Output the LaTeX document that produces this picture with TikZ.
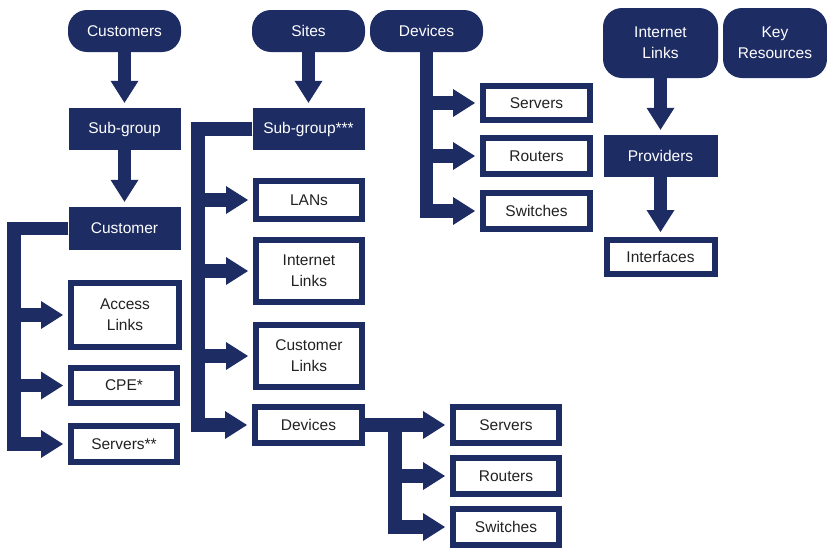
\documentclass[tikz,border=0pt]{standalone}
\usepackage{fontspec}
\setmainfont{Liberation Sans}
\usetikzlibrary{arrows.meta}
\definecolor{navy}{HTML}{1E2C64}
\definecolor{ink}{HTML}{222222}
\begin{document}
\begin{tikzpicture}[x=1pt,y=1pt,
  base/.style={inner sep=0pt, align=center, font=\fontsize{15.5}{21}\selectfont},
  pill/.style={base, fill=navy, text=white, rounded corners=19pt},
  solidbox/.style={base, fill=navy, text=white},
  frame/.style={base, draw=navy, line width=6pt, text=ink, fill=white},
  sz/.style 2 args={minimum width=#1pt, minimum height=#2pt},
  conn/.style={draw=navy, line width=13.5pt, line join=miter, shorten >=5pt,
    -{Triangle[width=28pt,length=22pt,line width=0pt]}},
]
\useasboundingbox (0,0) rectangle (827,-549);

% Customers column
\node[pill, sz={113}{42}] (customers) at (124.5,-31) {Customers};
\node[solidbox, sz={112}{42}] (sg1) at (124.5,-129) {Sub-group};
\node[solidbox, sz={112}{43}] (cust) at (124.5,-228.5) {Customer};
\node[frame, sz={108}{64}] (access) at (125,-315) {Access\\Links};
\node[frame, sz={106}{35}] (cpe) at (124,-385.5) {CPE*};
\node[frame, sz={106}{36}] (srv2) at (124,-444) {Servers**};

% Sites column
\node[pill, sz={113}{42}] (sites) at (308.5,-31) {Sites};
\node[solidbox, sz={112}{42}] (sg3) at (308.5,-129) {Sub-group***};
\node[frame, sz={106}{38}] (lans) at (309,-200) {LANs};
\node[frame, sz={106}{62}] (inet) at (309,-271) {Internet\\Links};
\node[frame, sz={106}{62}] (clinks) at (309,-356) {Customer\\Links};
\node[frame, sz={107}{36}] (devs) at (308.5,-425) {Devices};
\node[frame, sz={106}{36}] (srv3) at (506,-425) {Servers};
\node[frame, sz={106}{36}] (rtr3) at (506,-476) {Routers};
\node[frame, sz={106}{36}] (sw3) at (506,-527) {Switches};

% Devices column
\node[pill, sz={113}{42}] (devp) at (426.5,-31) {Devices};
\node[frame, sz={107}{34}] (srv1) at (536.5,-103) {Servers};
\node[frame, sz={107}{36}] (rtr1) at (536.5,-156) {Routers};
\node[frame, sz={107}{36}] (sw1) at (536.5,-211) {Switches};

% Internet links column
\node[pill, sz={115}{70}] (il) at (660.5,-43) {Internet\\Links};
\node[pill, sz={104}{70}] (kr) at (775,-43) {Key\\Resources};
\node[solidbox, sz={114}{42}] (prov) at (660.5,-156) {Providers};
\node[frame, sz={108}{34}] (intf) at (660.5,-257) {Interfaces};

% Connectors
\draw[conn] (customers.south) -- (sg1.north);
\draw[conn] (sg1.south) -- (cust.north);
\draw[conn] (cust.west) -- ++(-54.5,0) |- (access.west);
\draw[conn] (cust.west) -- ++(-54.5,0) |- (cpe.west);
\draw[conn] (cust.west) -- ++(-54.5,0) |- (srv2.west);

\draw[conn] (sites.south) -- (sg3.north);
\draw[conn] (sg3.west) -- ++(-54.5,0) |- (lans.west);
\draw[conn] (sg3.west) -- ++(-54.5,0) |- (inet.west);
\draw[conn] (sg3.west) -- ++(-54.5,0) |- (clinks.west);
\draw[conn] (sg3.west) -- ++(-54.5,0) |- (devs.west);

\draw[conn] (devs.east) -- (srv3.west);
\draw[conn] (devs.east) -- ++(30,0) |- (rtr3.west);
\draw[conn] (devs.east) -- ++(30,0) |- (sw3.west);

\draw[conn] (devp.south) |- (srv1.west);
\draw[conn] (devp.south) |- (rtr1.west);
\draw[conn] (devp.south) |- (sw1.west);

\draw[conn] (il.south) -- (prov.north);
\draw[conn] (prov.south) -- (intf.north);
\end{tikzpicture}
\end{document}
